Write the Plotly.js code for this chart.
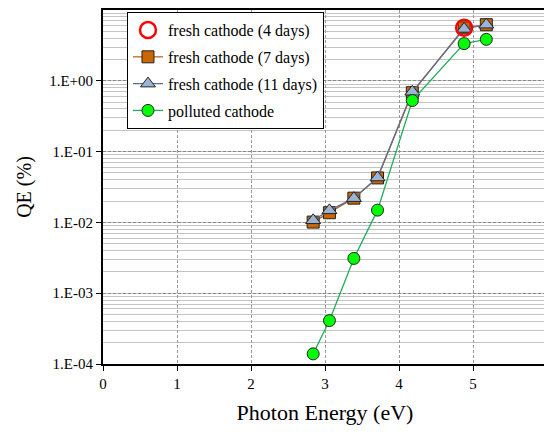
<!DOCTYPE html>
<html>
<head>
<meta charset="utf-8">
<script src="https://cdn.plot.ly/plotly-3.0.1.min.js"></script>
<style>
html,body{margin:0;padding:0;overflow:hidden;background:#fff;width:544px;height:433px;}
#chart{width:550px;height:433px;}
</style>
</head>
<body>
<div id="chart"></div>
<script>
const energy = [2.84, 3.06, 3.39, 3.71, 4.18, 4.88, 5.18];
const qe7days = [0.0101, 0.0137, 0.022, 0.0425, 0.68, 5.6, 6.2];
const qe11days = [0.0107, 0.0148, 0.022, 0.043, 0.70, 5.4, 6.2];
const qePolluted = [0.000139, 0.00041, 0.0031, 0.0149, 0.526, 3.35, 3.85];
const energy4days = [4.88];
const qe4days = [5.6];
const yTickVals = [0.0001, 0.001, 0.01, 0.1, 1];
const yTickText = ['1.E-04', '1.E-03', '1.E-02', '1.E-01', '1.E+00'];
const xTickVals = [0, 1, 2, 3, 4, 5, 6];

const serif = '"Liberation Serif", "Times New Roman", serif';

const traces = [
  {
    name: 'fresh cathode (7 days)', x: energy, y: qe7days, mode: 'lines+markers',
    line: {color: '#c0661c', width: 1.3},
    marker: {symbol: 'square', size: 12, color: '#cc6600', line: {color: '#222', width: 1}},
    legendrank: 2, legendgroup: 'g2'
  },
  {
    name: 'fresh cathode (11 days)', x: energy, y: qe11days, mode: 'lines+markers',
    line: {color: '#5a6f8f', width: 1.3},
    marker: {symbol: 'triangle-up', size: 13, color: '#9ab4d8', line: {color: '#222', width: 1}},
    legendrank: 3, legendgroup: 'g3'
  },
  {
    name: 'polluted cathode', x: energy, y: qePolluted, mode: 'lines+markers',
    line: {color: '#1fae5a', width: 1.3},
    marker: {symbol: 'circle', size: 12, color: '#00ff00', line: {color: '#222', width: 1}},
    legendrank: 4, legendgroup: 'g4'
  },
  {
    name: 'fresh cathode (4 days)', x: energy4days, y: qe4days, mode: 'markers',
    marker: {symbol: 'circle-open', size: 16, color: '#ff0000', line: {color: '#ff0000', width: 2.5}},
    legendrank: 1, legendgroup: 'g1'
  }
];

const layout = {
  width: 550, height: 433,
  margin: {l: 103, r: 3, t: 10, b: 69},
  paper_bgcolor: '#fff', plot_bgcolor: '#fff',
  font: {family: serif, color: '#000', size: 15},
  showlegend: true,
  legend: {
    x: 0.054, y: 0.994, xanchor: 'left', yanchor: 'top',
    bgcolor: '#fff', bordercolor: '#000', borderwidth: 1,
    font: {family: serif, size: 16, color: '#000'},
    traceorder: 'grouped', tracegroupgap: 3
  },
  xaxis: {
    range: [0, 6], tickmode: 'array', tickvals: xTickVals,
    ticks: 'outside', ticklen: 5, tickcolor: '#000', tickwidth: 1,
    showline: true, linecolor: '#000', linewidth: 2, mirror: true,
    showgrid: true, gridcolor: '#999999', griddash: '3px,2px', gridwidth: 1,
    zeroline: false,
    tickfont: {family: serif, size: 15, color: '#000'},
    title: {text: 'Photon Energy (eV)', font: {family: serif, size: 22, color: '#000'}, standoff: 14}
  },
  yaxis: {
    type: 'log', range: [-4, 1], tickmode: 'array', tickvals: yTickVals, ticktext: yTickText,
    ticks: 'outside', ticklen: 5, tickcolor: '#000', tickwidth: 1,
    showline: true, linecolor: '#000', linewidth: 2,
    showgrid: true, gridcolor: '#888888', griddash: '3px,2px', gridwidth: 1,
    minor: {dtick: 'D1', showgrid: true, gridcolor: '#c4c4c4', gridwidth: 1, griddash: 'solid', ticks: ''},
    zeroline: false,
    tickfont: {family: serif, size: 15, color: '#000'},
    title: {text: 'QE (%)', font: {family: serif, size: 20, color: '#000'}, standoff: 12}
  }
};

Plotly.newPlot('chart', traces, layout, {displayModeBar: false, staticPlot: true});
</script>
</body>
</html>
